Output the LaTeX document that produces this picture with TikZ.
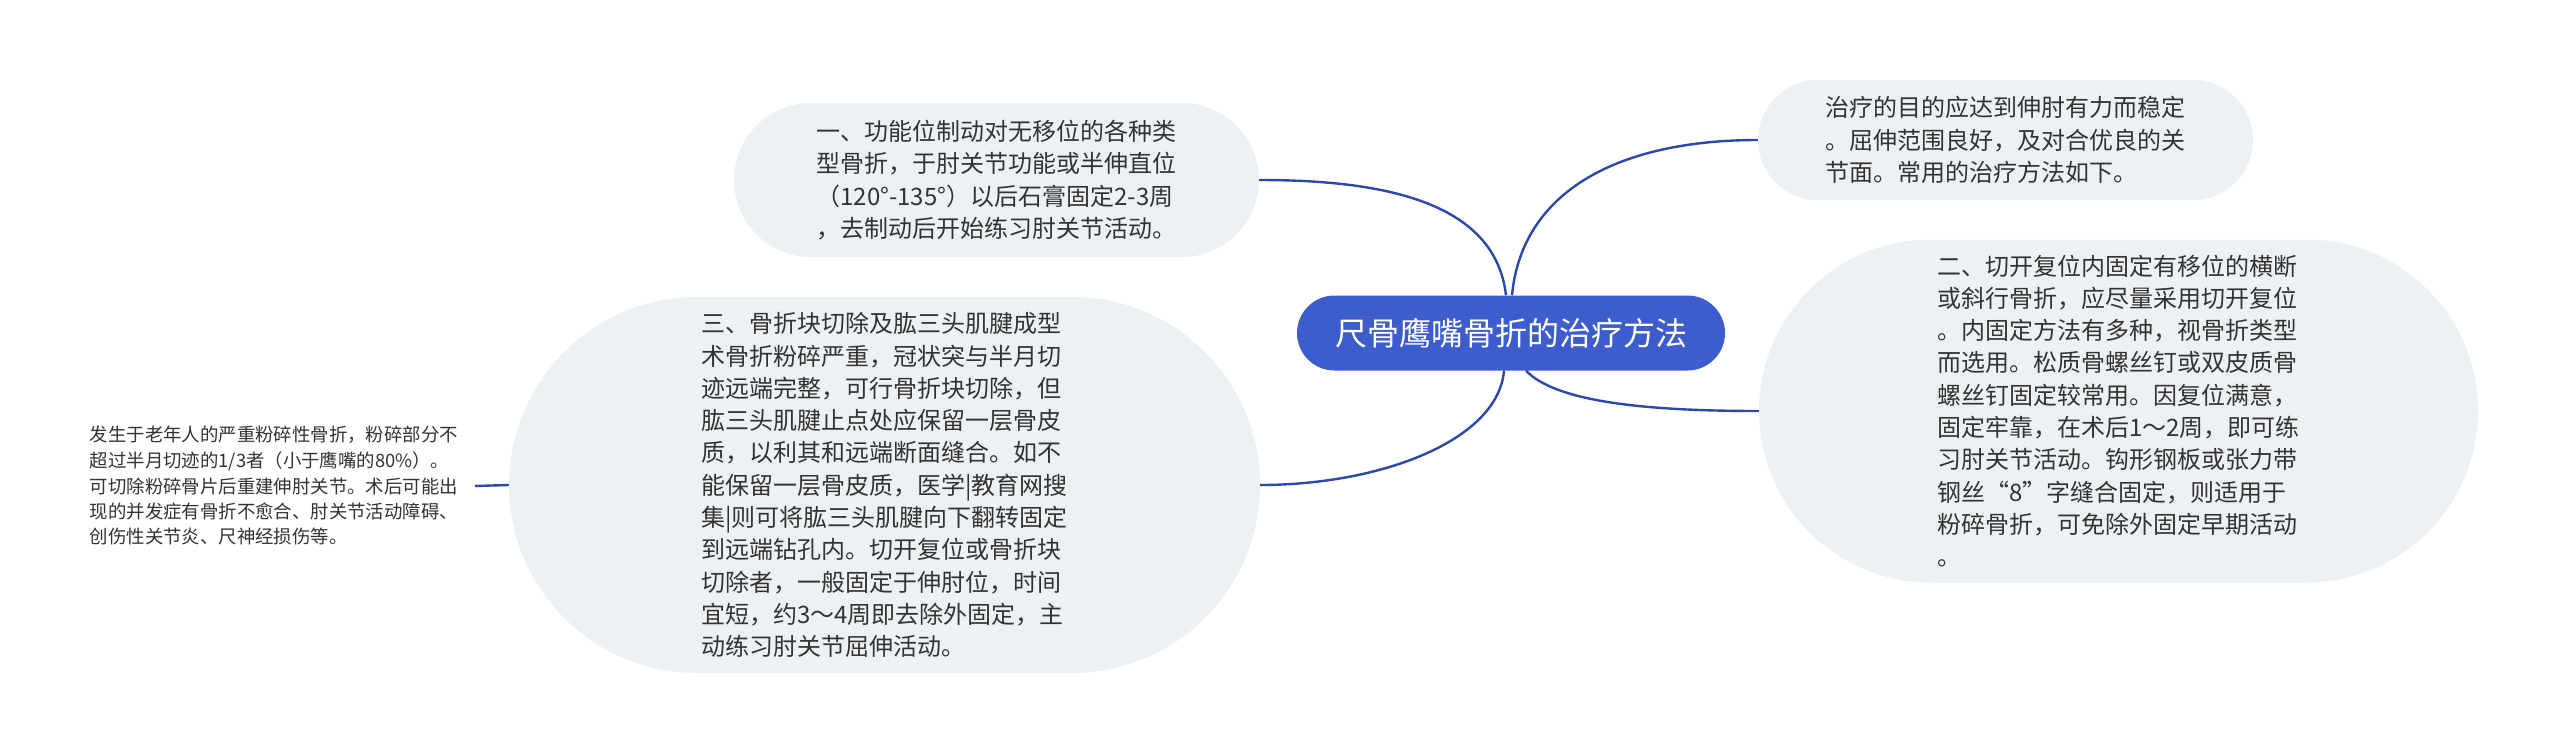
\documentclass[tikz,border=0pt]{standalone}
\usepackage{fontspec}
\setmainfont{Noto Sans CJK SC}
\definecolor{nodebg}{RGB}{238,241,244}
\definecolor{rootbg}{RGB}{61,93,204}
\definecolor{edgec}{RGB}{44,72,172}
\definecolor{textc}{RGB}{51,51,51}
\tikzset{
  leaf/.style={fill=nodebg, draw=none, align=left, text=textc, inner sep=0pt,
    font=\fontsize{24pt}{32.3pt}\selectfont},
  rootnode/.style={fill=rootbg, draw=none, text=white, inner sep=0pt,
    font=\fontsize{32pt}{38pt}\selectfont},
  conn/.style={draw=edgec, line width=2.4pt},
  plain/.style={align=left, text=textc, inner xsep=17pt, inner ysep=0pt,
    font=\fontsize{18.4pt}{25.5pt}\selectfont}
}
\begin{document}
\begin{tikzpicture}[x=1pt,y=-1pt]
\useasboundingbox (0,0) rectangle (2560,755);
\fill[white] (0,0) rectangle (2560,755);

\node[rootnode, minimum width=428pt, minimum height=75pt, rounded corners=37.5pt] (c) at (1511,333) {尺骨鹰嘴骨折的治疗方法};

\node[leaf, minimum width=525pt, minimum height=154pt, rounded corners=77pt] (n1) at (996.5,180)
{一、功能位制动对无移位的各种类\\型骨折，于肘关节功能或半伸直位\\（120°-135°）以后石膏固定2-3周\\，去制动后开始练习肘关节活动。};

\node[leaf, minimum width=495pt, minimum height=120pt, rounded corners=60pt] (n2) at (2005.5,140)
{治疗的目的应达到伸肘有力而稳定\\。屈伸范围良好，及对合优良的关\\节面。常用的治疗方法如下。};

\node[leaf, minimum width=719pt, minimum height=343pt, rounded corners=171.5pt] (n3) at (2118.5,411)
{二、切开复位内固定有移位的横断\\或斜行骨折，应尽量采用切开复位\\。内固定方法有多种，视骨折类型\\而选用。松质骨螺丝钉或双皮质骨\\螺丝钉固定较常用。因复位满意，\\固定牢靠，在术后1～2周，即可练\\习肘关节活动。钩形钢板或张力带\\钢丝“8”字缝合固定，则适用于\\粉碎骨折，可免除外固定早期活动\\。};

\node[leaf, minimum width=751pt, minimum height=376pt, rounded corners=188pt] (n4) at (884.5,485)
{三、骨折块切除及肱三头肌腱成型\\术骨折粉碎严重，冠状突与半月切\\迹远端完整，可行骨折块切除，但\\肱三头肌腱止点处应保留一层骨皮\\质，以利其和远端断面缝合。如不\\能保留一层骨皮质，医学|教育网搜\\集|则可将肱三头肌腱向下翻转固定\\到远端钻孔内。切开复位或骨折块\\切除者，一般固定于伸肘位，时间\\宜短，约3～4周即去除外固定，主\\动练习肘关节屈伸活动。};

\node[plain, anchor=east] (n5) at (475,486)
{发生于老年人的严重粉碎性骨折，粉碎部分不\\超过半月切迹的1/3者（小于鹰嘴的80\%）。\\可切除粉碎骨片后重建伸肘关节。术后可能出\\现的并发症有骨折不愈合、肘关节活动障碍、\\创伤性关节炎、尺神经损伤等。};

\draw[conn] ([xshift=-5pt]c.north) .. controls +(-11,-95) and +(121,0) .. (n1.east);
\draw[conn] ([xshift=1pt]c.north) .. controls +(10,-105) and +(-138,0) .. (n2.west);
\draw[conn] ([xshift=15pt]c.south) .. controls +(29,30) and +(-120,0) .. (n3.west);
\draw[conn] ([xshift=-7pt]c.south) .. controls +(-6,70) and +(120,0) .. (n4.east);
\draw[conn] (n4.west) -- (n5.east);
\end{tikzpicture}
\end{document}
